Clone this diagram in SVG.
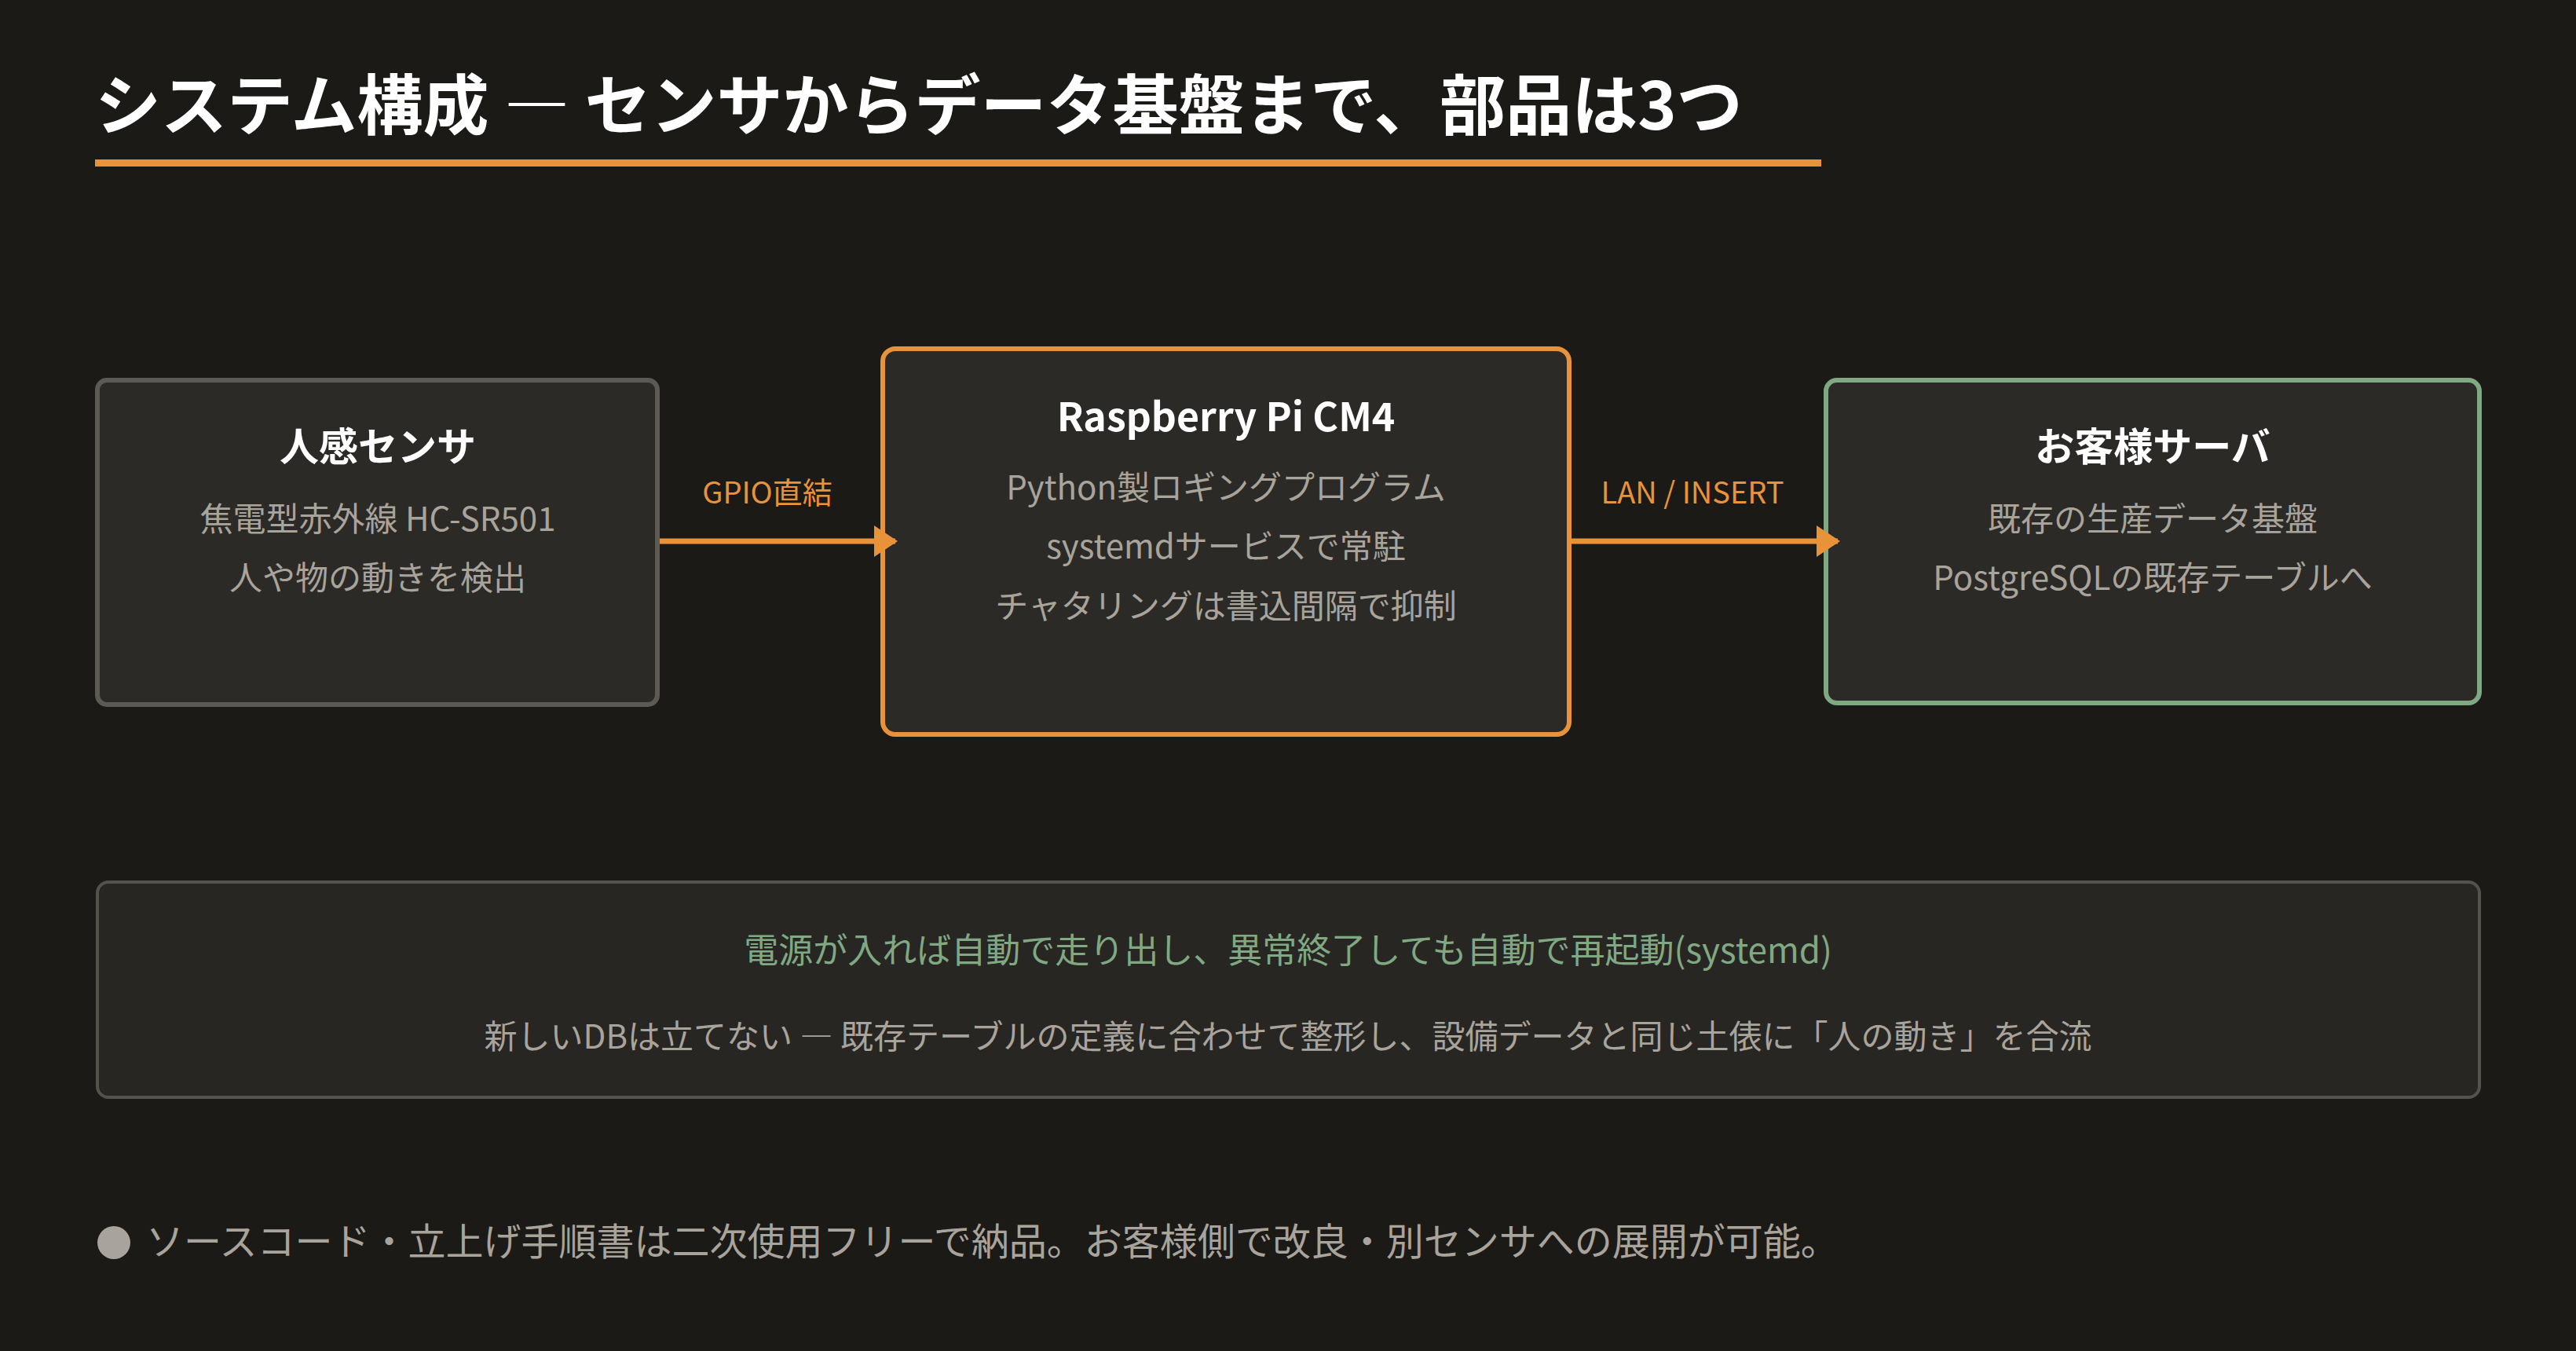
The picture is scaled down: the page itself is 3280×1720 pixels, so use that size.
<svg xmlns="http://www.w3.org/2000/svg" width="3280" height="1720" viewBox="0 0 3280 1720">
<style>
text{font-family:"Noto Sans CJK JP","Noto Sans",sans-serif}
.t{fill:#ffffff;font-weight:700;font-size:50px;text-anchor:middle}
.s{fill:#a8a49c;font-size:42px;text-anchor:middle}
.lbl{fill:#e8933a;font-size:38px;text-anchor:middle}
.box{fill:#2c2a27;stroke-width:6}
</style>
<defs><marker id="ah" markerWidth="10" markerHeight="10" refX="8" refY="5" orient="auto" markerUnits="userSpaceOnUse" viewBox="0 0 10 10"><path d="M0,0L10,5L0,10z" fill="#e8933a"/></marker>
<marker id="a" viewBox="0 0 10 10" refX="9" refY="5" markerWidth="30" markerHeight="40" markerUnits="userSpaceOnUse" orient="auto" preserveAspectRatio="none"><path d="M0,0L10,5L0,10z" fill="#e8933a"/></marker></defs>
<rect width="3280" height="1720" fill="#1c1a17"/>
<g id="title"><text x="121" y="165" font-size="84" font-weight="700" fill="#ffffff">システム構成 ― センサからデータ基盤まで、部品は3つ</text>
<rect x="121" y="203" width="2198" height="9" fill="#e8933a"/></g>
<g id="n1"><rect class="box" x="124" y="484" width="713" height="413" rx="12" stroke="#5c5a52"/>
<text class="t" x="481" y="587">人感センサ</text>
<text class="s" x="481" y="676">焦電型赤外線 HC-SR501</text>
<text class="s" x="481" y="751">人や物の動きを検出</text></g>
<g id="n2"><rect class="box" x="1124" y="444" width="874" height="491" rx="16" stroke="#e8933a"/>
<text class="t" x="1561" y="549">Raspberry Pi CM4</text>
<text class="s" x="1561" y="636">Python製ロギングプログラム</text>
<text class="s" x="1561" y="711">systemdサービスで常駐</text>
<text class="s" x="1561" y="787">チャタリングは書込間隔で抑制</text></g>
<g id="n3"><rect class="box" x="2325" y="484" width="832" height="411" rx="14" stroke="#80a983"/>
<text class="t" x="2741" y="587">お客様サーバ</text>
<text class="s" x="2741" y="676">既存の生産データ基盤</text>
<text class="s" x="2741" y="751">PostgreSQLの既存テーブルへ</text></g>
<g id="connectors">
<line x1="840" y1="689" x2="1140" y2="689" stroke="#e8933a" stroke-width="7" marker-end="url(#a)"/>
<line x1="2001" y1="689" x2="2340" y2="689" stroke="#e8933a" stroke-width="7" marker-end="url(#a)"/>
<text class="lbl" x="977" y="641">GPIO直結</text>
<text class="lbl" x="2155" y="641">LAN / INSERT</text></g>
<g id="note"><rect x="124" y="1123" width="3033" height="274" rx="14" fill="#282623" stroke="#55524b" stroke-width="4"/>
<text x="1640" y="1226" font-size="44" fill="#80a983" text-anchor="middle">電源が入れば自動で走り出し、異常終了しても自動で再起動(systemd)</text>
<text x="1640" y="1335" font-size="42" fill="#a8a49c" text-anchor="middle">新しいDBは立てない ― 既存テーブルの定義に合わせて整形し、設備データと同じ土俵に「人の動き」を合流</text></g>
<g id="footer"><circle cx="145" cy="1582" r="21" fill="#a8a49c"/>
<text x="186" y="1598" font-size="48" fill="#a8a49c">ソースコード・立上げ手順書は二次使用フリーで納品。お客様側で改良・別センサへの展開が可能。</text></g>
</svg>
